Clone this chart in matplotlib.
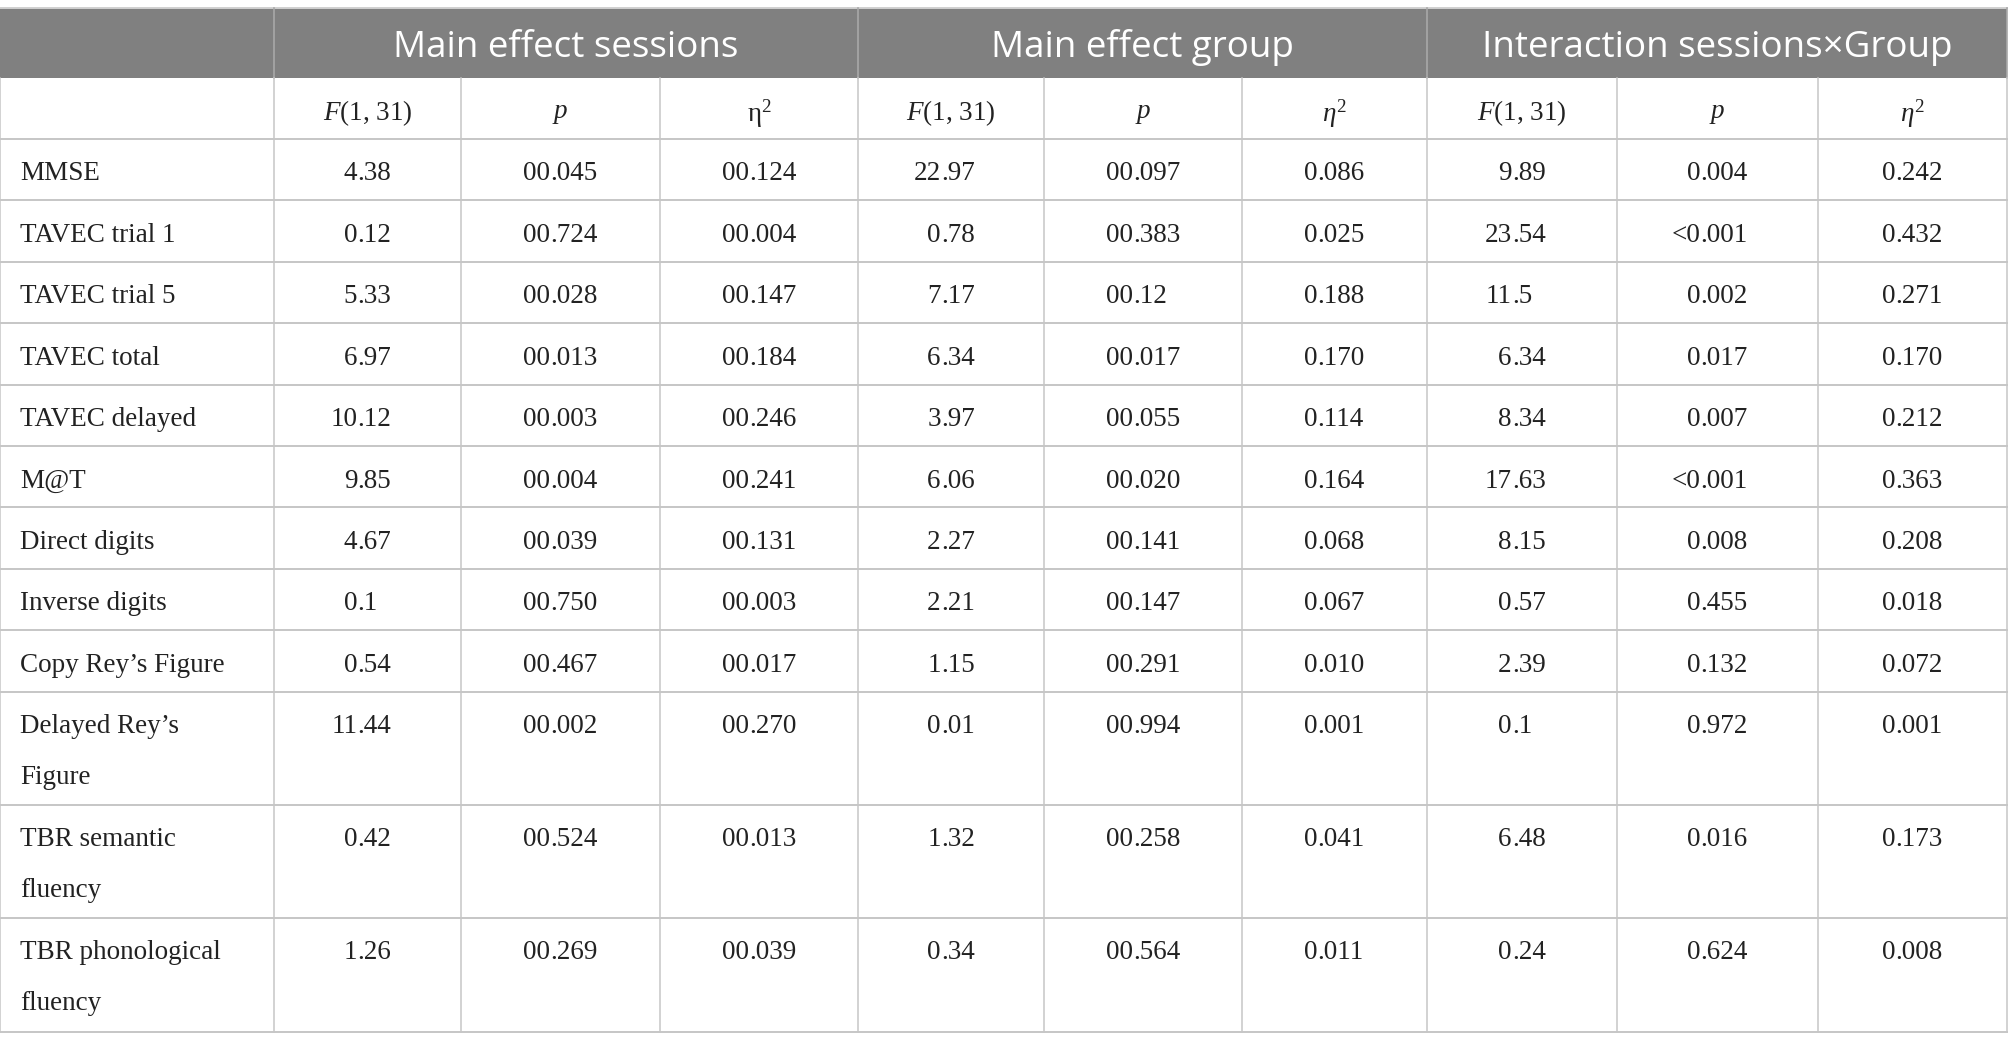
import matplotlib
matplotlib.use("Agg")
import matplotlib.pyplot as plt
from matplotlib.patches import Rectangle

plt.rcParams['font.family'] = ['Liberation Serif', 'DejaVu Serif']
plt.rcParams['mathtext.fontset'] = 'custom'
plt.rcParams['mathtext.rm'] = 'Liberation Serif'
plt.rcParams['mathtext.it'] = 'Liberation Serif:italic'
plt.rcParams['mathtext.bf'] = 'Liberation Serif:bold'

# table content
group_titles = ["Main effect sessions", "Main effect group", "Interaction sessions\u00d7Group"]
sub_headers = [r"$F$(1, 31)", r"$p$", r"$\mathrm{η}^{2}$",
               r"$F$(1, 31)", r"$p$", r"$η^{2}$",
               r"$F$(1, 31)", r"$p$", r"$η^{2}$"]
row_labels = ["MMSE", "TAVEC trial 1", "TAVEC trial 5", "TAVEC total", "TAVEC delayed",
              "M@T", "Direct digits", "Inverse digits", "Copy Rey\u2019s Figure",
              "Delayed Rey\u2019s\nFigure", "TBR semantic\nfluency", "TBR phonological\nfluency"]
f_sessions = ["4.38", "0.12", "5.33", "6.97", "10.12", "9.85", "4.67", "0.1", "0.54", "11.44", "0.42", "1.26"]
p_sessions = ["00.045", "00.724", "00.028", "00.013", "00.003", "00.004", "00.039", "00.750", "00.467",
              "00.002", "00.524", "00.269"]
eta_sessions = ["00.124", "00.004", "00.147", "00.184", "00.246", "00.241", "00.131", "00.003", "00.017",
                "00.270", "00.013", "00.039"]
f_group = ["22.97", "0.78", "7.17", "6.34", "3.97", "6.06", "2.27", "2.21", "1.15", "0.01", "1.32", "0.34"]
p_group = ["00.097", "00.383", "00.12", "00.017", "00.055", "00.020", "00.141", "00.147", "00.291",
           "00.994", "00.258", "00.564"]
eta_group = ["0.086", "0.025", "0.188", "0.170", "0.114", "0.164", "0.068", "0.067", "0.010", "0.001",
             "0.041", "0.011"]
f_inter = ["9.89", "23.54", "11.5", "6.34", "8.34", "17.63", "8.15", "0.57", "2.39", "0.1", "6.48", "0.24"]
p_inter = ["0.004", "<0.001", "0.002", "0.017", "0.007", "<0.001", "0.008", "0.455", "0.132", "0.972",
           "0.016", "0.624"]
eta_inter = ["0.242", "0.432", "0.271", "0.170", "0.212", "0.363", "0.208", "0.018", "0.072", "0.001",
             "0.173", "0.008"]

columns = [f_sessions, p_sessions, eta_sessions, f_group, p_group, eta_group, f_inter, p_inter, eta_inter]

# layout (pixels)
W, H = 2009, 1047
col_x = [0, 274, 461, 660, 858, 1044, 1242, 1427, 1617, 1818, 2007]
head_top, head_bot, sub_bot = 8, 78, 139
row_h = [61.4] * 9 + [113, 113, 114]
fs = 19.5
digit = fs * 100 / 72 * 0.5
# decimal point offset from column centre: "0.00" / "00.000" / "0.000"
off_a = -(digit * 2 - digit) / 2 - digit / 4
off_b = -(digit * 3 + digit / 2 - digit) / 2
dec_off = [off_a, off_a, off_a, off_a, off_a, off_b, off_a, off_b, off_b]

head_bg = "#808080"
grid = "#c6c6c6"
txt = "#222222"

fig = plt.figure(figsize=(W / 100, H / 100), dpi=100)
ax = fig.add_axes([0, 0, 1, 1])
ax.set_xlim(0, W)
ax.set_ylim(H, 0)
ax.axis("off")

# header band
ax.add_patch(Rectangle((col_x[0], head_top), col_x[-1] - col_x[0], head_bot - head_top,
                       facecolor=head_bg, edgecolor="none"))
ax.plot([col_x[0], col_x[-1]], [head_top, head_top], color="#d0d0d0", lw=1.4)
for i, title in enumerate(group_titles):
    x0, x1 = col_x[1 + 3 * i], col_x[4 + 3 * i]
    ax.plot([x0, x0], [head_top, head_bot], color="#a8a8a8", lw=1.2)
    ax.text((x0 + x1) / 2, (head_top + head_bot) / 2 + 5, title, color="white",
            fontsize=26.5, family="Open Sans", ha="center", va="center")
ax.plot([col_x[-1], col_x[-1]], [head_top, head_bot], color="#a8a8a8", lw=1.2)

# row boundaries
ys = [head_bot, sub_bot]
for h in row_h:
    ys.append(ys[-1] + h)

for y in ys[1:]:
    ax.plot([col_x[0], col_x[-1]], [y, y], color=grid, lw=1.4)
for x in col_x:
    ax.plot([x, x], [head_bot, ys[-1]], color=grid, lw=1.1)

# sub header
for j, s in enumerate(sub_headers):
    cx = (col_x[j + 1] + col_x[j + 2]) / 2
    ax.text(cx, (head_bot + sub_bot) / 2 + 5, s, fontsize=fs, color=txt, ha="center", va="center")

# body
for r, label in enumerate(row_labels):
    top = ys[r + 1]
    yc = top + 35
    for k, line in enumerate(label.split("\n")):
        ax.text(20, yc + 51 * k, line, fontsize=fs, color=txt, ha="left", va="center")
    for j, col in enumerate(columns):
        val = col[r]
        cx = (col_x[j + 1] + col_x[j + 2]) / 2 + dec_off[j]
        left, right = val.split(".")
        ax.text(cx, yc, left, fontsize=fs, color=txt, ha="right", va="center")
        ax.text(cx, yc, "." + right, fontsize=fs, color=txt, ha="left", va="center")

fig.savefig("out.png", dpi=100, facecolor="white")
